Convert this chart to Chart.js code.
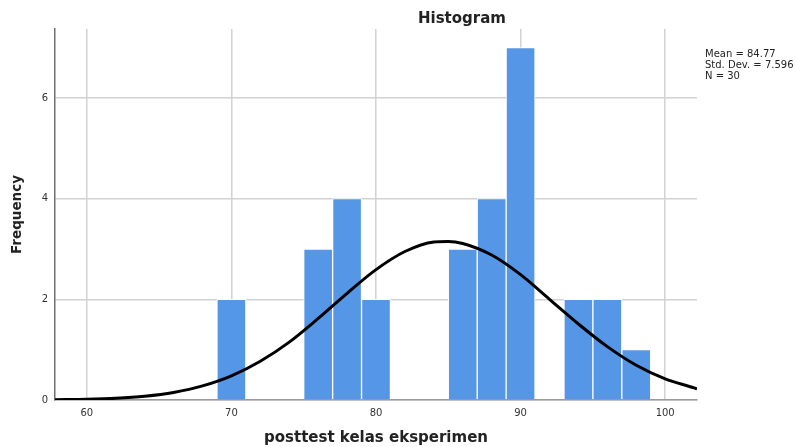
<!DOCTYPE html>
<html>
<head>
<meta charset="utf-8">
<script src="https://cdn.jsdelivr.net/npm/chart.js@4/dist/chart.umd.min.js"></script>
<style>
    html, body { margin: 0; padding: 0; background: #fff; }
    #wrap { position: relative; width: 796px; height: 447px; overflow: hidden; }
    #title {
        position: absolute; left: 418px; top: 9px; line-height: 15px;
        font: bold 15px 'DejaVu Sans', sans-serif; color: #222;
    }
    #stats {
        position: absolute; left: 705px; top: 48px; white-space: nowrap;
        font: 10px 'DejaVu Sans', sans-serif; color: #222; line-height: 11px;
    }
</style>
</head>
<body>
<div id="wrap">
    <canvas id="histChart" width="796" height="447"></canvas>
    <div id="title">Histogram</div>
    <div id="stats">Mean = 84.77<br>Std. Dev. = 7.596<br>N = 30</div>
</div>
<script>
// bin centres (bin width 2) and their frequencies
const binCenters = [70, 76, 78, 80, 86, 88, 90, 94, 96, 98];
const frequencies = [2, 3, 4, 2, 3, 4, 7, 2, 2, 1];

// normal curve
const curveX = [57.8, 60, 62, 64, 66, 68, 70, 72, 74, 76, 78, 80, 82, 84, 85, 86, 88, 90, 92, 94, 96, 98, 100, 102, 102.2];
const curveY = [0.005, 0.015, 0.035, 0.075, 0.15, 0.28, 0.48, 0.77, 1.15, 1.62, 2.12, 2.59, 2.95, 3.14, 3.15, 3.11, 2.88, 2.49, 2.00, 1.51, 1.06, 0.69, 0.42, 0.24, 0.22];

const xTicks = [60, 70, 80, 90, 100];
const yTicks = [0, 2, 4, 6];

const FONT = "'DejaVu Sans', sans-serif";

const ctx = document.getElementById('histChart').getContext('2d');
new Chart(ctx, {
    data: {
        datasets: [
            {
                type: 'line',
                label: 'Normal',
                data: curveX.map((x, i) => ({ x: x, y: curveY[i] })),
                borderColor: '#000',
                borderWidth: 3,
                pointRadius: 0,
                cubicInterpolationMode: 'monotone',
                fill: false,
                order: 0
            },
            {
                type: 'bar',
                label: 'Frequency',
                data: binCenters.map((x, i) => ({ x: x, y: frequencies[i] })),
                backgroundColor: '#5596e6',
                borderColor: '#ffffff',
                borderWidth: 1,
                categoryPercentage: 1,
                barPercentage: 1,
                order: 1
            }
        ]
    },
    options: {
        responsive: false,
        animation: false,
        devicePixelRatio: 1,
        layout: { padding: { top: 29, right: 99, left: 0, bottom: 0 } },
        plugins: { legend: { display: false }, tooltip: { enabled: false }, title: { display: false } },
        scales: {
            x: {
                type: 'linear',
                offset: false,
                min: 57.8,
                max: 102.2,
                afterFit: s => { s.height = 47; },
                afterBuildTicks: s => { s.ticks = xTicks.map(v => ({ value: v })); },
                grid: { color: '#d2d2d2', lineWidth: 1.5, drawTicks: false, offset: false },
                border: { color: '#9a9a9a', width: 1.5 },
                ticks: { padding: 7, color: '#333', font: { family: FONT, size: 10 }, maxRotation: 0 },
                title: {
                    display: true,
                    text: 'posttest kelas eksperimen',
                    color: '#222',
                    font: { family: FONT, size: 15, weight: 'bold' },
                    padding: { top: 8, bottom: 0 }
                }
            },
            y: {
                min: 0,
                max: 7.37,
                afterFit: s => { s.width = 55; },
                afterBuildTicks: s => { s.ticks = yTicks.map(v => ({ value: v })); },
                grid: { color: '#d2d2d2', lineWidth: 1.5, drawTicks: false },
                border: { color: '#707070', width: 1.5 },
                ticks: { padding: 7, color: '#333', font: { family: FONT, size: 10 } },
                title: {
                    display: true,
                    text: 'Frequency',
                    color: '#222',
                    font: { family: FONT, size: 13.5, weight: 'bold' },
                    padding: { top: 9, bottom: 0 }
                }
            }
        }
    }
});
</script>
</body>
</html>
